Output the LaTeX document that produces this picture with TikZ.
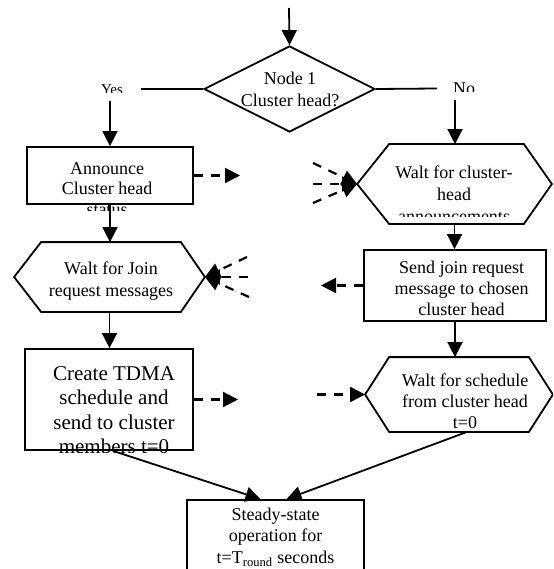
\documentclass[tikz,border=0pt]{standalone}
\usepackage{fontspec}
\setmainfont{Liberation Serif}
\usetikzlibrary{shapes.geometric,arrows.meta,calc}
\begin{document}
\begin{tikzpicture}[x=1pt,y=-1pt,
  line width=1.8pt,
  >={Triangle[length=15pt,width=15pt]},
  box/.style={draw,rectangle,inner sep=0pt},
  shapeonly/.style={inner sep=0pt},
  txt/.style={align=center,inner sep=0pt,font=\fontsize{18}{21.5}\selectfont},
  flow/.style={->},
  dflow/.style={->,dash pattern=on 9pt off 8pt,line width=2.2pt},
]
\useasboundingbox (0,0) rectangle (553,569);
\clip (0,0) rectangle (553,569);

% decision
\node[shapeonly,shape=diamond,draw,minimum width=171pt,minimum height=86pt] (dec) at (289.5,89) {};
\node[txt] (dectxt) at (290,89.5) {Node 1\\Cluster head?};
\coordinate (top) at (289,8);
\draw[flow] (top) -- (dec.north);
\coordinate (yesend) at (141,89);
\coordinate (noend) at (437,88.5);
\draw (dec.west) -- (yesend);
\draw (dec.east) -- (noend);
\begin{scope}
\clip (80,70) rectangle (150,93);
\node[anchor=base,inner sep=0pt,font=\fontsize{15}{18}\selectfont] (yes) at (112,95) {Yes};
\end{scope}
\begin{scope}
\clip (440,70) rectangle (500,92);
\node[anchor=base,inner sep=0pt,font=\fontsize{18}{21}\selectfont] (no) at (464,95) {No};
\end{scope}
\coordinate (yesdrop) at (110,101);
\coordinate (nodrop) at (455,100);

% announce
\node[box,minimum width=166pt,minimum height=57pt] (ann) at (110,175.5) {};
\begin{scope}
\clip (20,150) rectangle (200,210);
\node[txt,font=\fontsize{18}{20.5}\selectfont] (anntxt) at (107,189) {Announce\\Cluster head\\status};
\end{scope}

% wait for cluster-head announcements
\node[shapeonly,minimum width=193pt,minimum height=78pt] (h1) at (454.5,184) {};
\draw (h1.west) -- ([xshift=32pt]h1.north west) -- ([xshift=-28pt]h1.north east) -- (h1.east)
  -- ([xshift=-28pt]h1.south east) -- ([xshift=32pt]h1.south west) -- cycle;
\begin{scope}
\clip (360,150) rectangle (550,216.5);
\node[txt,font=\fontsize{18}{22}\selectfont] (h1txt) at (454,194.5) {Walt for cluster-\\head\\announcements};
\end{scope}

% wait for join request
\node[shapeonly,minimum width=189pt,minimum height=68pt] (h2) at (109.5,277) {};
\draw (h2.west) -- ([xshift=27pt]h2.north west) -- ([xshift=-24pt]h2.north east) -- (h2.east)
  -- ([xshift=-24pt]h2.south east) -- ([xshift=27pt]h2.south west) -- cycle;
\node[txt,font=\fontsize{18}{22}\selectfont] (h2txt) at (111,281.5) {Walt for Join\\request messages};

% send join request
\node[box,minimum width=182pt,minimum height=71pt] (send) at (455,285.5) {};
\node[txt,font=\fontsize{18}{21}\selectfont] (sendtxt) at (461.5,288) {Send join request\\message to chosen\\cluster head};

% create TDMA
\node[box,minimum width=168pt,minimum height=101pt] (create) at (109,399.5) {};
\begin{scope}
\clip (20,352) rectangle (200,452);
\node[txt,font=\fontsize{21}{24.5}\selectfont] (createtxt) at (114,410) {Create TDMA\\schedule and\\send to cluster\\members t=0};
\end{scope}

% wait for schedule
\node[shapeonly,minimum width=186pt,minimum height=73pt] (h3) at (459,394.5) {};
\draw (h3.west) -- ([xshift=24pt]h3.north west) -- ([xshift=-24pt]h3.north east) -- (h3.east)
  -- ([xshift=-24pt]h3.south east) -- ([xshift=24pt]h3.south west) -- cycle;
\node[txt,font=\fontsize{18}{21}\selectfont] (h3txt) at (465,401) {Walt for schedule\\from cluster head\\t=0};

% steady state
\node[box,txt,minimum width=177pt,minimum height=74pt] (steady) at (275.5,537) {Steady-state\\operation for\\t=T\textsubscript{round} seconds};

% solid connectors
\draw[flow] (yesdrop) -- (yesdrop |- ann.north);
\draw[flow] (nodrop) -- (nodrop |- h1.north);
\draw[flow] (ann.south) -- (ann.south |- h2.north);
\draw[flow] (h2.south) -- (h2.south |- create.north);
\draw[flow] (h1.south) -- (h1.south |- send.north);
\draw[flow] (send.south) -- (send.south |- h3.north);
\draw[flow] ([xshift=4pt]create.south) -- ([xshift=-15pt]steady.north);
\draw[flow] ([xshift=8pt]h3.south) -- ([xshift=11pt]steady.north);

% dashed connectors
\coordinate (annout) at (240,175.5);
\draw[dflow] (ann.east) -- (annout);
\coordinate (b1a) at (313,163);
\coordinate (b1b) at (313,184);
\coordinate (b1c) at (313,203);
\draw[dflow] (b1a) -- (h1.west);
\draw[dflow] (b1b) -- (h1.west);
\draw[dflow] (b1c) -- (h1.west);
\coordinate (b2a) at (247,257);
\coordinate (b2b) at (248,277);
\coordinate (b2c) at (249,297);
\draw[dflow] (b2a) -- (h2.east);
\draw[dflow] (b2b) -- (h2.east);
\draw[dflow] (b2c) -- (h2.east);
\coordinate (sendout) at (321,285.5);
\draw[dflow] (send.west) -- (sendout);
\coordinate (createout) at (238,399.5);
\draw[dflow] (create.east) -- (createout);
\coordinate (h3in) at (317,394.5);
\draw[dflow] (h3in) -- (h3.west);
\end{tikzpicture}
\end{document}
